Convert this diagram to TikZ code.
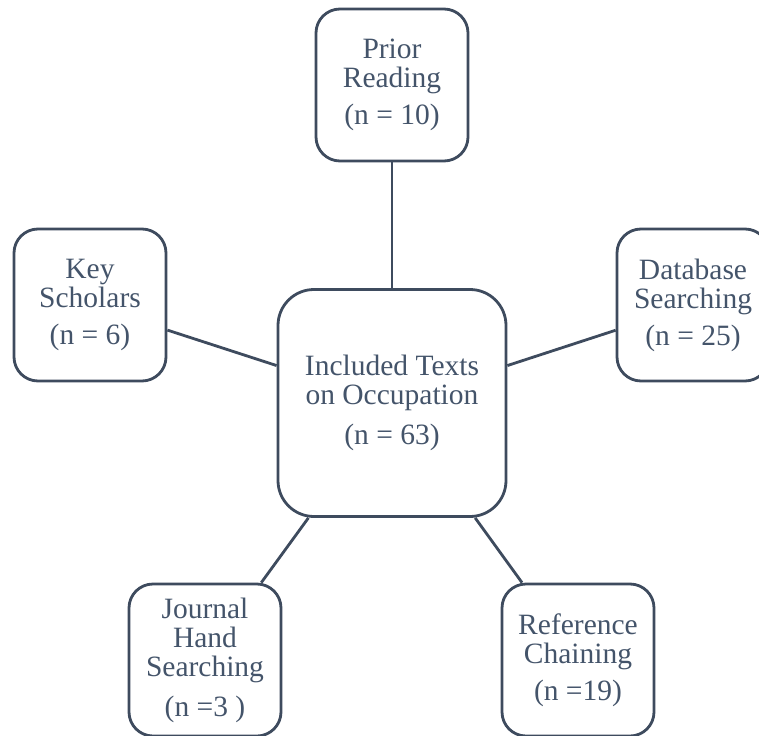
\documentclass[tikz,border=0pt]{standalone}
\usepackage{fontspec}
\setmainfont{Liberation Serif}
\usetikzlibrary{positioning}
\definecolor{slate}{HTML}{44546A}
\definecolor{edgeline}{HTML}{3E4B5E}

\begin{document}
\begin{tikzpicture}[x=1pt, y=-1pt,
    src/.style={draw=edgeline, line width=2.8pt, rounded corners=24pt,
                minimum width=152pt, minimum height=152pt, inner sep=0pt,
                text=slate, align=center, font=\fontsize{29.5}{29}\selectfont},
    hub/.style={src, minimum width=228pt, minimum height=227pt, rounded corners=36pt},
    link/.style={draw=edgeline, line width=2.8pt}
  ]
    \useasboundingbox (0,0) rectangle (759,735);

    % Centre
    \node[hub] (hub) at (392,403) {Included Texts\\on Occupation\\[11pt](n = 63)};

    % Sources
    \node[src] (prior)  at (392,85)  {Prior\\Reading\\[8pt](n = 10)};
    \node[src] (key)    at (90,305)  {Key\\Scholars\\[8pt](n = 6)};
    \node[src] (dbase)  at (693,305) {Database\\Searching\\[8pt](n = 25)};
    \node[src] (journal) at (205,660) {Journal\\Hand\\Searching\\[11pt](n =3 )};
    \node[src] (refchain) at (578,660) {Reference\\Chaining\\[8pt](n =19)};

    % Links to centre
    \draw[link] (prior) -- (hub);
    \draw[link] (key) -- (hub);
    \draw[link] (dbase) -- (hub);
    \draw[link] (journal) -- (hub);
    \draw[link] (refchain) -- (hub);
\end{tikzpicture}
\end{document}
